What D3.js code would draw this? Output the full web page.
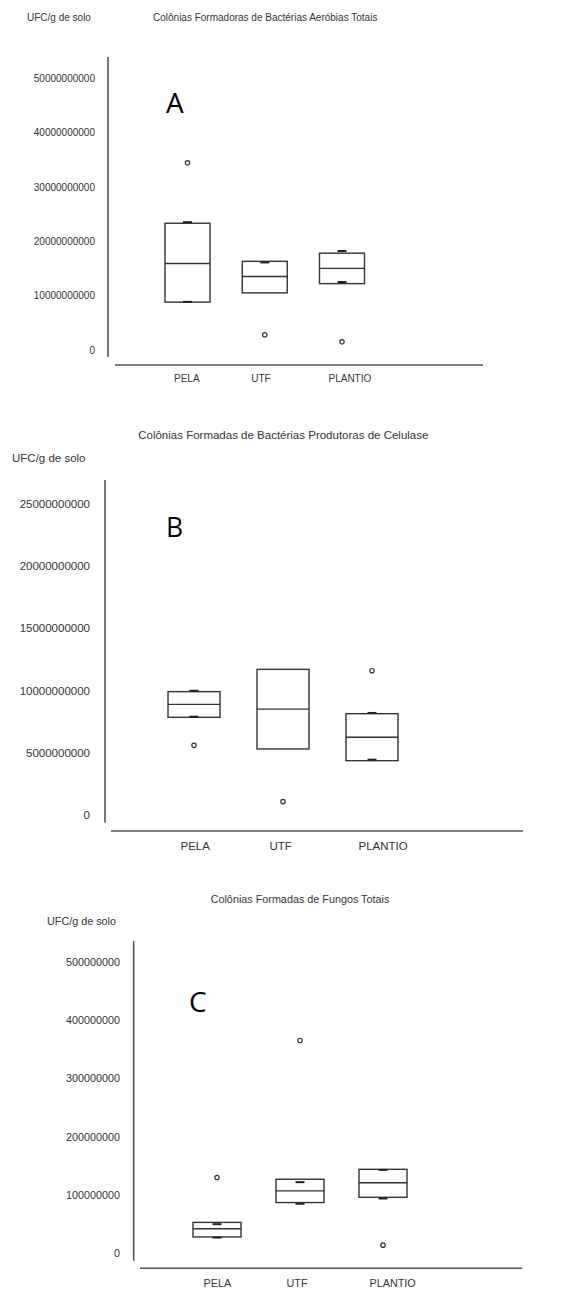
<!DOCTYPE html>
<html>
<head>
<meta charset="utf-8">
<script src="https://cdn.jsdelivr.net/npm/d3@7"></script>
<style>
  body { margin: 0; background: #fff; }
  text { font-family: "Liberation Sans", Arial, sans-serif; fill: #333; }
</style>
</head>
<body>
<script>
var w = 566;
var h = 1291;

var categories = ["PELA", "UTF", "PLANTIO"];

// A - bacterias aerobias totais
var aerobiasQ1 = [8.8e9, 10.5e9, 12.2e9];
var aerobiasMedian = [15.9e9, 13.5e9, 15.0e9];
var aerobiasQ3 = [23.3e9, 16.3e9, 17.8e9];
var aerobiasCapLow = [8.85e9, null, 12.5e9];
var aerobiasCapHigh = [23.5e9, 16.1e9, 18.2e9];
var aerobiasOutliers = [3.44e10, 0.28e10, 0.15e10];
var aerobiasTicks = [0, 1e10, 2e10, 3e10, 4e10, 5e10];

// B - bacterias produtoras de celulase
var celulaseQ1 = [7.84e9, 5.3e9, 4.36e9];
var celulaseMedian = [8.88e9, 8.5e9, 6.24e9];
var celulaseQ3 = [9.9e9, 11.69e9, 8.13e9];
var celulaseCapLow = [7.89e9, null, 4.44e9];
var celulaseCapHigh = [9.97e9, null, 8.19e9];
var celulaseOutliers = [5.59e9, 1.07e9, 11.58e9];
var celulaseTicks = [0, 5e9, 10e9, 15e9, 20e9, 25e9];

// C - fungos totais
var fungosQ1 = [28e6, 87e6, 96e6];
var fungosMedian = [42e6, 107e6, 121e6];
var fungosQ3 = [53e6, 127e6, 144e6];
var fungosCapLow = [27e6, 85e6, 94e6];
var fungosCapHigh = [50e6, 122e6, 143e6];
var fungosOutliers = [130e6, 365e6, 14e6];
var fungosTicks = [0, 1e8, 2e8, 3e8, 4e8, 5e8];

var svg = d3.select("body")
  .append("svg")
  .attr("width", w)
  .attr("height", h);

function drawPanel(p) {
  var g = svg.append("g");

  var yScale = d3.scaleLinear()
    .domain([0, d3.max(p.ticks)])
    .range([p.zeroY, p.maxY]);

  var xScale = d3.scalePoint()
    .domain(categories)
    .range([p.firstX, p.lastX]);

  // title + unit
  g.append("text")
    .attr("x", p.titleX)
    .attr("y", p.titleY)
    .attr("dy", "0.35em")
    .attr("text-anchor", p.titleAnchor)
    .style("font-size", p.fs + "px")
    .text(p.title);

  g.append("text")
    .attr("x", p.unitX)
    .attr("y", p.unitY)
    .attr("dy", "0.35em")
    .style("font-size", p.fs + "px")
    .text("UFC/g de solo");

  g.append("text")
    .attr("x", p.letterX)
    .attr("y", p.letterY)
    .style("font-family", "'Open Sans', sans-serif")
    .style("font-size", p.letterSize + "px")
    .style("fill", "#000")
    .text(p.letter);

  // axes lines
  g.append("line")
    .attr("x1", p.axisX).attr("x2", p.axisX)
    .attr("y1", p.axisTop).attr("y2", p.axisBottom)
    .attr("stroke", "#555").attr("stroke-width", 1.6);

  g.append("line")
    .attr("x1", p.baseX0).attr("x2", p.baseX1)
    .attr("y1", p.baseY).attr("y2", p.baseY)
    .attr("stroke", "#555").attr("stroke-width", 1.6);

  var yAxis = d3.axisLeft(yScale)
    .tickValues(p.ticks)
    .tickFormat(d3.format("d"))
    .tickSize(0)
    .tickPadding(p.tickPad);

  var ya = g.append("g")
    .attr("transform", "translate(" + p.axisX + ",0)")
    .call(yAxis);
  ya.select(".domain").remove();
  ya.selectAll("text")
    .style("font-size", p.fs + "px")
    .style("font-family", "'Liberation Sans', Arial, sans-serif")
    .attr("fill", "#333");

  var xAxis = d3.axisBottom(xScale)
    .tickSize(0)
    .tickPadding(p.catPad);

  var xa = g.append("g")
    .attr("transform", "translate(0," + p.baseY + ")")
    .call(xAxis);
  xa.select(".domain").remove();
  xa.selectAll("text")
    .attr("text-anchor", "start")
    .attr("x", -14)
    .style("font-size", p.fs + "px")
    .style("font-family", "'Liberation Sans', Arial, sans-serif")
    .attr("fill", "#333");

  var rows = categories.map(function(c, i) {
    return {
      cat: c, q1: p.q1[i], med: p.med[i], q3: p.q3[i],
      lo: p.capLow[i], hi: p.capHigh[i], out: p.outliers[i]
    };
  });

  // boxes
  g.selectAll("rect.box")
    .data(rows)
    .enter()
    .append("rect")
    .attr("class", "box")
    .attr("x", function(d) { return xScale(d.cat) - p.boxW / 2; })
    .attr("y", function(d) { return yScale(d.q3); })
    .attr("width", p.boxW)
    .attr("height", function(d) { return yScale(d.q1) - yScale(d.q3); })
    .attr("fill", "none")
    .attr("stroke", "#333")
    .attr("stroke-width", 1.4);

  g.selectAll("line.median")
    .data(rows)
    .enter()
    .append("line")
    .attr("class", "median")
    .attr("x1", function(d) { return xScale(d.cat) - p.boxW / 2; })
    .attr("x2", function(d) { return xScale(d.cat) + p.boxW / 2; })
    .attr("y1", function(d) { return yScale(d.med); })
    .attr("y2", function(d) { return yScale(d.med); })
    .attr("stroke", "#333")
    .attr("stroke-width", 1.4);

  // whisker caps
  var caps = [];
  rows.forEach(function(d) {
    if (d.lo != null) caps.push({ cat: d.cat, v: d.lo });
    if (d.hi != null) caps.push({ cat: d.cat, v: d.hi });
  });

  g.selectAll("line.cap")
    .data(caps)
    .enter()
    .append("line")
    .attr("class", "cap")
    .attr("x1", function(d) { return xScale(d.cat) - 4.5; })
    .attr("x2", function(d) { return xScale(d.cat) + 4.5; })
    .attr("y1", function(d) { return yScale(d.v); })
    .attr("y2", function(d) { return yScale(d.v); })
    .attr("stroke", "#222")
    .attr("stroke-width", 2);

  // outliers
  g.selectAll("circle")
    .data(rows)
    .enter()
    .append("circle")
    .attr("cx", function(d) { return xScale(d.cat); })
    .attr("cy", function(d) { return yScale(d.out); })
    .attr("r", 2.2)
    .attr("fill", "#fff")
    .attr("stroke", "#333")
    .attr("stroke-width", 1.2);
}

drawPanel({
  title: "Colônias Formadoras de Bactérias Aeróbias Totais",
  titleX: 153, titleY: 17, titleAnchor: "start",
  unitX: 27, unitY: 17,
  letter: "A", letterX: 166, letterY: 112.5, letterSize: 28,
  fs: 10,
  axisX: 108, axisTop: 57, axisBottom: 357,
  zeroY: 350, maxY: 78,
  baseY: 365, baseX0: 115, baseX1: 483,
  firstX: 187.5, lastX: 342, boxW: 45,
  tickPad: 13, catPad: 9.5,
  ticks: aerobiasTicks,
  q1: aerobiasQ1, med: aerobiasMedian, q3: aerobiasQ3,
  capLow: aerobiasCapLow, capHigh: aerobiasCapHigh, outliers: aerobiasOutliers
});

drawPanel({
  title: "Colônias Formadas de Bactérias Produtoras de Celulase",
  titleX: 283.3, titleY: 435, titleAnchor: "middle",
  unitX: 12, unitY: 457.7,
  letter: "B", letterX: 166, letterY: 537.3, letterSize: 26.5,
  fs: 11.5,
  axisX: 105, axisTop: 480, axisBottom: 822.7,
  zeroY: 815, maxY: 503.5,
  baseY: 831, baseX0: 111, baseX1: 523,
  firstX: 194, lastX: 372, boxW: 52,
  tickPad: 15, catPad: 11,
  ticks: celulaseTicks,
  q1: celulaseQ1, med: celulaseMedian, q3: celulaseQ3,
  capLow: celulaseCapLow, capHigh: celulaseCapHigh, outliers: celulaseOutliers
});

drawPanel({
  title: "Colônias Formadas de Fungos Totais",
  titleX: 300, titleY: 899, titleAnchor: "middle",
  unitX: 47, unitY: 921,
  letter: "C", letterX: 189, letterY: 1012, letterSize: 28,
  fs: 10.8,
  axisX: 133.7, axisTop: 941, axisBottom: 1260.7,
  zeroY: 1253.3, maxY: 961.7,
  baseY: 1268.3, baseX0: 140, baseX1: 522,
  firstX: 217, lastX: 383, boxW: 48,
  tickPad: 13.7, catPad: 10.6,
  ticks: fungosTicks,
  q1: fungosQ1, med: fungosMedian, q3: fungosQ3,
  capLow: fungosCapLow, capHigh: fungosCapHigh, outliers: fungosOutliers
});
</script>
</body>
</html>
